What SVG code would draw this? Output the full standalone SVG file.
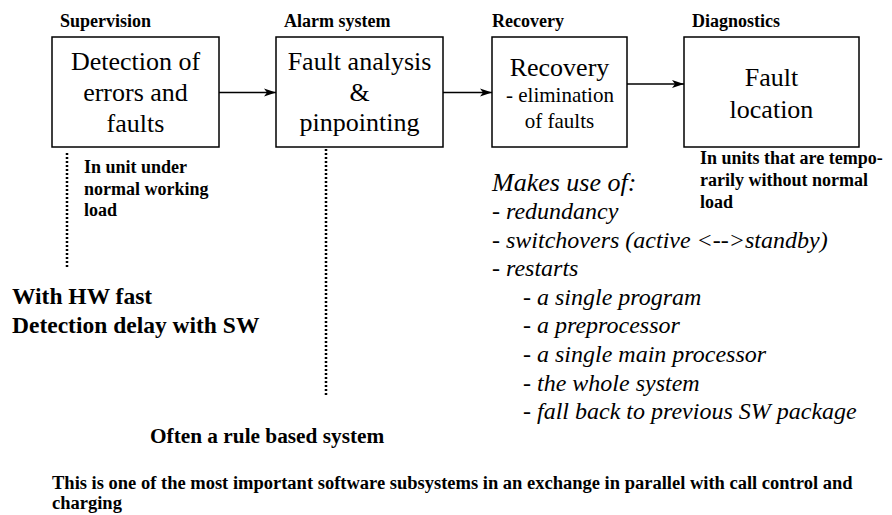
<svg xmlns="http://www.w3.org/2000/svg" width="892" height="515" viewBox="0 0 892 515">
<style>
text{font-family:'Liberation Serif','Times New Roman','DejaVu Serif',serif;fill:#000}
.box{fill:#fff;stroke:#000;stroke-width:1.5}
.bt{font-size:26px;text-anchor:middle}
.lab{font-size:18px;font-weight:bold}
.big{font-size:23.5px;font-weight:bold}
.it{font-size:24px;font-style:italic}
.con{stroke:#000;stroke-width:1.5;fill:none}
.dot{stroke:#000;stroke-width:2.5;stroke-dasharray:2 2;fill:none}
</style>
<defs>
<marker id="ah" viewBox="0 0 12 10" refX="12" refY="5" markerWidth="12" markerHeight="10" markerUnits="userSpaceOnUse" orient="auto">
<path d="M0,1 L12,5 L0,9 L3,5 Z" fill="#000"/>
</marker>
</defs>
<rect width="892" height="515" fill="#fff"/>
<g id="connectors">
<line class="con" x1="219" y1="92.5" x2="276" y2="92.5" marker-end="url(#ah)"/>
<line class="con" x1="443" y1="92.5" x2="492" y2="92.5" marker-end="url(#ah)"/>
<line class="con" x1="627" y1="84" x2="684" y2="84" marker-end="url(#ah)"/>
<line class="dot" x1="67" y1="153" x2="67" y2="267"/>
<line class="dot" x1="326" y1="149" x2="326" y2="396"/>
</g>
<g id="supervision">
<text class="lab" x="60" y="27">Supervision</text>
<rect class="box" x="52" y="37" width="167" height="110"/>
<text class="bt" x="135.5" y="70">Detection of</text>
<text class="bt" x="135.5" y="101">errors and</text>
<text class="bt" x="135.5" y="132">faults</text>
</g>
<g id="alarm">
<text class="lab" x="284" y="27">Alarm system</text>
<rect class="box" x="276" y="37" width="167" height="110"/>
<text class="bt" x="359.5" y="70">Fault analysis</text>
<text class="bt" x="359.5" y="101">&amp;</text>
<text class="bt" x="359.5" y="131">pinpointing</text>
</g>
<g id="recovery">
<text class="lab" x="492" y="27">Recovery</text>
<rect class="box" x="492" y="37" width="135" height="110"/>
<text class="bt" x="559.5" y="76">Recovery</text>
<text class="bt" x="560" y="102" style="font-size:21px">- elimination</text>
<text class="bt" x="559.5" y="128" style="font-size:21px">of faults</text>
</g>
<g id="diagnostics">
<text class="lab" x="692" y="27">Diagnostics</text>
<rect class="box" x="684" y="37" width="175" height="110"/>
<text class="bt" x="771.5" y="86">Fault</text>
<text class="bt" x="771.5" y="118">location</text>
</g>
<g id="notes">
<text class="lab" x="84" y="173">In unit under</text>
<text class="lab" x="84" y="195">normal working</text>
<text class="lab" x="84" y="216">load</text>
<text class="lab" x="700" y="164">In units that are tempo-</text>
<text class="lab" x="700" y="186">rarily without normal</text>
<text class="lab" x="700" y="208">load</text>
<text class="big" x="12" y="304">With HW fast</text>
<text class="big" x="12" y="333">Detection delay with SW</text>
<text class="it" x="492" y="191" style="font-size:26px">Makes use of:</text>
<text class="it" x="492" y="219">- redundancy</text>
<text class="it" x="492" y="248">- switchovers (active &lt;--&gt;standby)</text>
<text class="it" x="492" y="276">- restarts</text>
<text class="it" x="523" y="305">- a single program</text>
<text class="it" x="523" y="333">- a preprocessor</text>
<text class="it" x="523" y="362">- a single main processor</text>
<text class="it" x="523" y="391">- the whole system</text>
<text class="it" x="523" y="419">- fall back to previous SW package</text>
<text class="lab" x="150" y="443" style="font-size:21.3px">Often a rule based system</text>
<text class="lab" x="52" y="489" style="font-size:18.5px">This is one of the most important software subsystems in an exchange in parallel with call control and</text>
<text class="lab" x="52" y="509" style="font-size:18.5px">charging</text>
</g>
</svg>
